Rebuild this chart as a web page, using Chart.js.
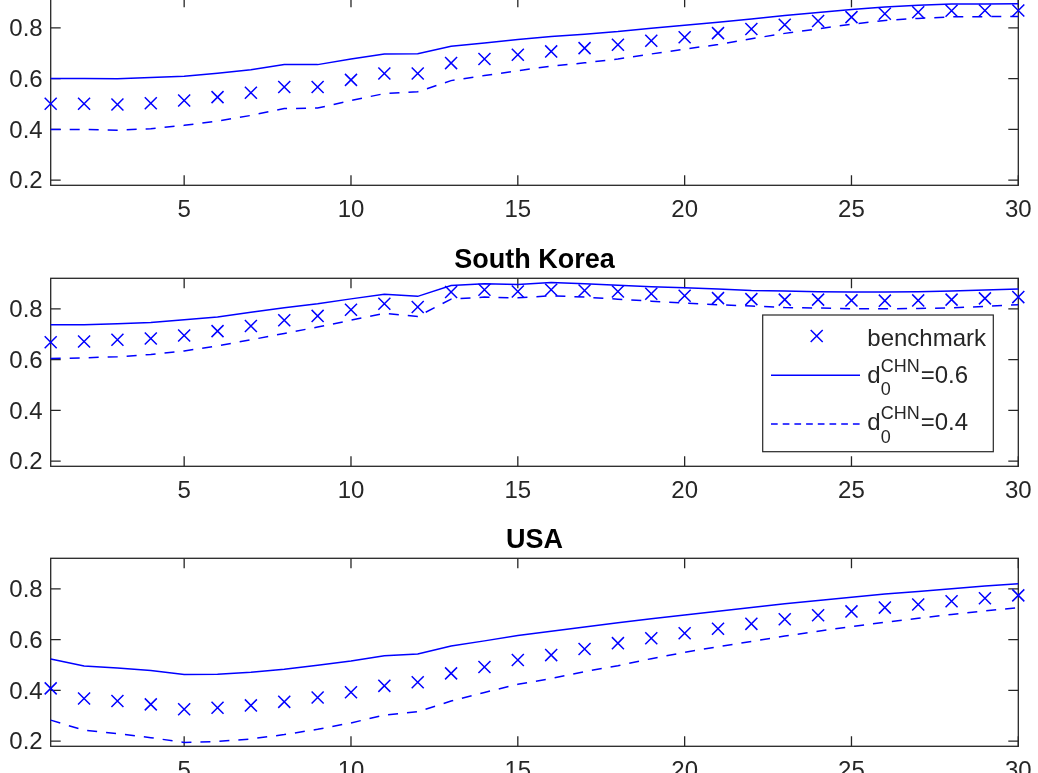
<!DOCTYPE html>
<html>
<head>
<meta charset="utf-8">
<script src="https://cdn.jsdelivr.net/npm/chart.js@4.4.1/dist/chart.umd.min.js"></script>
<style>
html,body{margin:0;padding:0;background:#fff;overflow:hidden;}
#wrap{position:relative;width:1038px;height:773px;overflow:hidden;background:#fff;}
#wrap canvas{position:absolute;left:0;}
</style>
</head>
<body>
<div id="wrap">
<canvas id="c1" width="1038" height="269" style="top:-43px;width:1038px;height:269px"></canvas>
<canvas id="c2" width="1038" height="269" style="top:238px;width:1038px;height:269px"></canvas>
<canvas id="c3" width="1038" height="269" style="top:518px;width:1038px;height:269px"></canvas>
</div>
<script>
// ---- data ----
const periods = [1,2,3,4,5,6,7,8,9,10,11,12,13,14,15,16,17,18,19,20,21,22,23,24,25,26,27,28,29,30];
const xTickValues = [5,10,15,20,25,30];
const yTickValues = [0.2,0.4,0.6,0.8];
const panelTitles = ['', 'South Korea', 'USA'];

const topBench = [0.501,0.501,0.498,0.503,0.514,0.527,0.544,0.567,0.567,0.595,0.620,0.620,0.661,0.677,0.694,0.707,0.720,0.733,0.749,0.763,0.779,0.795,0.812,0.827,0.842,0.855,0.861,0.867,0.868,0.868];
const topHigh  = [0.600,0.600,0.599,0.604,0.609,0.621,0.635,0.655,0.655,0.677,0.697,0.698,0.727,0.740,0.754,0.766,0.775,0.785,0.798,0.810,0.822,0.835,0.848,0.860,0.872,0.882,0.889,0.894,0.894,0.895];
const topLow   = [0.400,0.400,0.397,0.403,0.416,0.433,0.455,0.482,0.484,0.514,0.541,0.548,0.592,0.612,0.631,0.649,0.662,0.677,0.697,0.716,0.734,0.757,0.778,0.796,0.814,0.829,0.837,0.843,0.844,0.844];

const korBench = [0.668,0.671,0.678,0.683,0.695,0.712,0.732,0.755,0.772,0.796,0.820,0.807,0.866,0.875,0.868,0.875,0.872,0.868,0.859,0.851,0.842,0.838,0.836,0.836,0.833,0.832,0.833,0.836,0.841,0.846];
const korHigh  = [0.737,0.737,0.741,0.746,0.757,0.768,0.786,0.804,0.820,0.839,0.857,0.849,0.892,0.899,0.896,0.903,0.899,0.893,0.887,0.883,0.878,0.872,0.870,0.867,0.866,0.866,0.867,0.870,0.874,0.878];
const korLow   = [0.604,0.607,0.611,0.620,0.634,0.654,0.678,0.703,0.728,0.755,0.782,0.770,0.838,0.846,0.843,0.851,0.846,0.838,0.830,0.822,0.816,0.811,0.805,0.803,0.800,0.800,0.801,0.804,0.809,0.816];

const usaBench = [0.408,0.368,0.358,0.345,0.326,0.332,0.341,0.355,0.372,0.393,0.418,0.432,0.467,0.492,0.520,0.539,0.563,0.586,0.605,0.625,0.643,0.662,0.680,0.696,0.711,0.726,0.738,0.751,0.763,0.774];
const usaHigh  = [0.524,0.496,0.488,0.478,0.463,0.464,0.471,0.483,0.499,0.516,0.536,0.543,0.575,0.595,0.616,0.633,0.650,0.666,0.682,0.697,0.712,0.726,0.741,0.754,0.767,0.779,0.789,0.800,0.811,0.820];
const usaLow   = [0.283,0.243,0.230,0.214,0.195,0.199,0.209,0.226,0.247,0.272,0.303,0.316,0.358,0.392,0.424,0.447,0.474,0.497,0.525,0.550,0.572,0.593,0.614,0.633,0.651,0.668,0.684,0.699,0.713,0.726];

const seriesLabels = ['benchmark', 'd0CHN=0.6', 'd0CHN=0.4'];
const legendParts = [
  {base:'benchmark', sup:'', sub:'', rest:''},
  {base:'d', sup:'CHN', sub:'0', rest:'=0.6'},
  {base:'d', sup:'CHN', sub:'0', rest:'=0.4'}
];

// ---- style ----
const FONT = '"Liberation Sans", Arial, Helvetica, sans-serif';
const AXIS = '#262626';
const BLUE = '#0000ff';
const DATA_DASH = [10, 9];
const LEGEND_DASH = [6.7, 5];

const axesPlugin = {
  id: 'matlabAxes',
  beforeDatasetsDraw(chart) {
    const {ctx, chartArea: a, scales: {x, y}} = chart;
    const TL = 10;
    ctx.save();
    ctx.strokeStyle = AXIS;
    ctx.lineWidth = 1.3;
    ctx.strokeRect(a.left, a.top, a.right - a.left, a.bottom - a.top);
    ctx.beginPath();
    xTickValues.forEach(v => {
      const px = x.getPixelForValue(v);
      ctx.moveTo(px, a.bottom); ctx.lineTo(px, a.bottom - TL);
      ctx.moveTo(px, a.top); ctx.lineTo(px, a.top + TL);
    });
    yTickValues.forEach(v => {
      const py = y.getPixelForValue(v);
      ctx.moveTo(a.left, py); ctx.lineTo(a.left + TL, py);
      ctx.moveTo(a.right, py); ctx.lineTo(a.right - TL, py);
    });
    ctx.stroke();
    ctx.restore();
  }
};

function drawX(ctx, cx, cy, r) {
  const h = r * Math.SQRT1_2;
  ctx.beginPath();
  ctx.moveTo(cx - h, cy - h); ctx.lineTo(cx + h, cy + h);
  ctx.moveTo(cx + h, cy - h); ctx.lineTo(cx - h, cy + h);
  ctx.stroke();
}

const legendPlugin = {
  id: 'texLegend',
  afterDraw(chart) {
    const {ctx, chartArea: a} = chart;
    const L = 762.7, R = 993.3, T = a.top + 36.7, B = a.top + 173.4;
    ctx.save();
    ctx.fillStyle = '#fff';
    ctx.fillRect(L, T, R - L, B - T);
    ctx.strokeStyle = AXIS;
    ctx.lineWidth = 1.2;
    ctx.strokeRect(L, T, R - L, B - T);

    // samples
    ctx.strokeStyle = BLUE;
    ctx.lineWidth = 1.5;
    drawX(ctx, 816.7, a.top + 57.7, 8.5);
    ctx.beginPath(); ctx.moveTo(771, a.top + 97); ctx.lineTo(860, a.top + 97); ctx.stroke();
    ctx.setLineDash(LEGEND_DASH);
    ctx.beginPath(); ctx.moveTo(771, a.top + 145.7); ctx.lineTo(860, a.top + 145.7); ctx.stroke();
    ctx.setLineDash([]);

    // texts
    ctx.fillStyle = AXIS;
    ctx.textBaseline = 'alphabetic';
    ctx.textAlign = 'left';
    const baselines = [a.top + 67.7, a.top + 104.4, a.top + 152];
    const tx = 867.3;
    legendParts.forEach((p, i) => {
      const b = baselines[i];
      ctx.font = '24px ' + FONT;
      ctx.fillText(p.base, tx, b);
      if (p.sup) {
        const bw = ctx.measureText(p.base).width;
        ctx.font = '18px ' + FONT;
        ctx.fillText(p.sup, tx + bw, b - 11);
        const supW = ctx.measureText(p.sup).width;
        ctx.fillText(p.sub, tx + bw, b + 12.3);
        const subW = ctx.measureText(p.sub).width;
        ctx.font = '24px ' + FONT;
        ctx.fillText(p.rest, tx + bw + Math.max(supW, subW) + 1, b);
      }
    });
    ctx.restore();
  }
};

function makeChart(id, title, bench, high, low, withLegend) {
  const pts = arr => periods.map((p, i) => ({x: p, y: arr[i]}));
  const cfg = {
    type: 'line',
    data: {
      datasets: [
        {label: seriesLabels[0], data: pts(bench), showLine: false,
         pointStyle: 'crossRot', pointRadius: 8.5, pointHoverRadius: 8.5,
         pointBorderWidth: 1.5, pointHoverBorderWidth: 1.5,
         borderColor: BLUE, backgroundColor: BLUE, clip: false},
        {label: seriesLabels[1], data: pts(high), borderColor: BLUE, borderWidth: 1.5,
         pointRadius: 0, pointHoverRadius: 0, fill: false, tension: 0, clip: false},
        {label: seriesLabels[2], data: pts(low), borderColor: BLUE, borderWidth: 1.5,
         borderDash: DATA_DASH, pointRadius: 0, pointHoverRadius: 0, fill: false, tension: 0, clip: false}
      ]
    },
    options: {
      responsive: false,
      animation: false,
      events: [],
      devicePixelRatio: 1,
      layout: {padding: {top: title ? 0.3 : 40.3, right: 19.7, bottom: 0.7, left: 0}},
      plugins: {
        legend: {display: false},
        tooltip: {enabled: false},
        title: {display: !!title, text: title, fullSize: false, color: '#000',
                font: {family: FONT, size: 27, weight: 'bold'},
                padding: {top: 6.5, bottom: 1.1}}
      },
      scales: {
        x: {type: 'linear', min: 1, max: 30, position: 'bottom',
            grid: {display: false, drawTicks: false, tickLength: 0}, border: {display: false},
            afterBuildTicks: s => { s.ticks = xTickValues.map(v => ({value: v})); },
            afterFit: s => { s.height = 40; s.paddingLeft = 0; s.paddingRight = 0; },
            ticks: {font: {family: FONT, size: 24}, color: AXIS, padding: 10.5,
                    maxRotation: 0, autoSkip: false, callback: v => String(v)}},
        y: {type: 'linear', min: 0.18, max: 0.92,
            grid: {display: false, drawTicks: false, tickLength: 0}, border: {display: false},
            afterBuildTicks: s => { s.ticks = yTickValues.map(v => ({value: v})); },
            afterFit: s => { s.width = 50.7; s.paddingTop = 0; s.paddingBottom = 0; },
            ticks: {font: {family: FONT, size: 24}, color: AXIS, padding: 8,
                    labelOffset: 1.5, callback: v => Number(v).toFixed(1)}}
      }
    },
    plugins: withLegend ? [axesPlugin, legendPlugin] : [axesPlugin]
  };
  return new Chart(document.getElementById(id), cfg);
}

makeChart('c1', panelTitles[0], topBench, topHigh, topLow, false);
makeChart('c2', panelTitles[1], korBench, korHigh, korLow, true);
makeChart('c3', panelTitles[2], usaBench, usaHigh, usaLow, false);
</script>
</body>
</html>
